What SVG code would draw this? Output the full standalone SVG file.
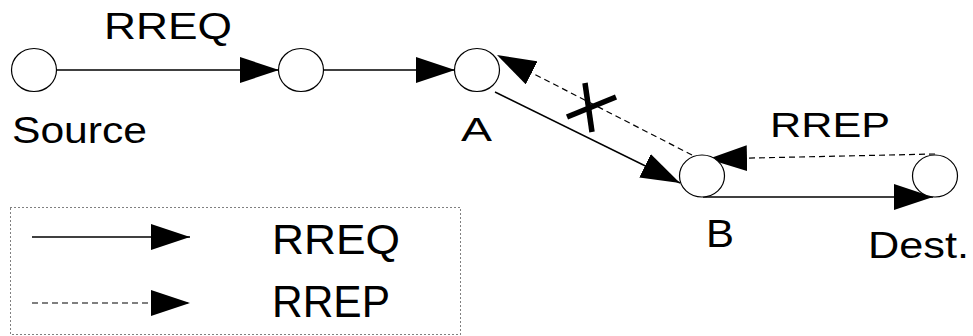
<svg xmlns="http://www.w3.org/2000/svg" width="973" height="336" viewBox="0 0 973 336">
  <defs>
    <marker id="head" markerUnits="userSpaceOnUse" markerWidth="40" markerHeight="26" refX="39" refY="13" orient="auto">
      <path d="M0,0 L39,13 L0,26 z" fill="#000"/>
    </marker>
    <style>
      .node { fill: #fff; stroke: #000; stroke-width: 1.2; }
      .req { stroke: #000; stroke-width: 1.4; fill: none; marker-end: url(#head); }
      .rep { stroke: #000; stroke-width: 1.2; fill: none; stroke-dasharray: 6 4; marker-end: url(#head); }
      .cut { stroke: #000; stroke-width: 5.5; }
      text { font-family: "Liberation Sans", Arial, sans-serif; fill: #000; }
      .frame { fill: none; stroke: #000; stroke-width: 1; stroke-dasharray: 1 3; }
    </style>
  </defs>

  <!-- connectors -->
  <g id="connectors">
    <line class="req" x1="57" y1="70" x2="279" y2="70"/>
    <line class="req" x1="324" y1="70" x2="455" y2="70"/>
    <line class="req" x1="495" y1="92" x2="680" y2="183"/>
    <line class="rep" x1="692" y1="155" x2="497" y2="55"/>
    <line class="rep" x1="935" y1="154" x2="708" y2="159"/>
    <line class="req" x1="703" y1="197" x2="933" y2="197"/>
    <!-- broken link mark -->
    <line class="cut" x1="567" y1="117" x2="616" y2="97"/>
    <line class="cut" x1="585" y1="83" x2="592" y2="132"/>
  </g>

  <!-- nodes -->
  <g id="source">
    <ellipse class="node" cx="34" cy="70" rx="22.5" ry="21.5"/>
    <text x="12" y="143" font-size="36" textLength="135" lengthAdjust="spacingAndGlyphs">Source</text>
  </g>
  <g id="relay">
    <ellipse class="node" cx="301" cy="70" rx="22.5" ry="21.5"/>
  </g>
  <g id="nodeA">
    <ellipse class="node" cx="477" cy="70" rx="22.5" ry="21.5"/>
    <text x="461" y="141" font-size="33" textLength="31" lengthAdjust="spacingAndGlyphs">A</text>
  </g>
  <g id="nodeB">
    <ellipse class="node" cx="702" cy="176" rx="22.5" ry="21"/>
    <text x="706" y="247" font-size="38" textLength="28" lengthAdjust="spacingAndGlyphs">B</text>
  </g>
  <g id="dest">
    <ellipse class="node" cx="935" cy="176" rx="22.5" ry="21"/>
    <text x="868" y="258" font-size="36" textLength="101" lengthAdjust="spacingAndGlyphs">Dest.</text>
  </g>

  <!-- message labels -->
  <g id="labels">
    <text x="104" y="39" font-size="36" textLength="128" lengthAdjust="spacingAndGlyphs">RREQ</text>
    <text x="770" y="137" font-size="35" textLength="120" lengthAdjust="spacingAndGlyphs">RREP</text>
  </g>

  <!-- legend -->
  <g id="legend">
    <rect class="frame" x="10.5" y="207.5" width="450" height="127"/>
    <line class="req" x1="32" y1="237" x2="190" y2="237"/>
    <line class="rep" x1="32" y1="303" x2="190" y2="303"/>
    <text x="272" y="254" font-size="42" textLength="128" lengthAdjust="spacingAndGlyphs">RREQ</text>
    <text x="272" y="317" font-size="44" textLength="118" lengthAdjust="spacingAndGlyphs">RREP</text>
  </g>
</svg>
